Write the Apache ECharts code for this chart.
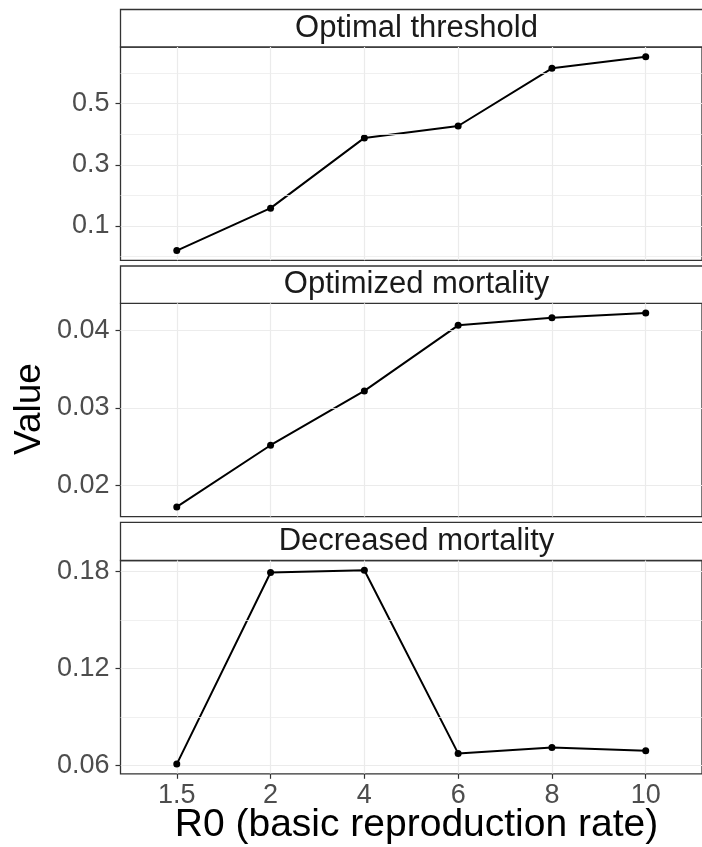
<!DOCTYPE html>
<html><head><meta charset="utf-8">
<script src="https://cdn.jsdelivr.net/npm/echarts@6/dist/echarts.min.js"></script>
<style>html,body{margin:0;padding:0;background:#fff}#c{width:702px;height:847px}</style>
</head><body><div id="c"></div>
<script>
// ---- data ----
const categories = ['1.5', '2', '4', '6', '8', '10'];
const panelTitles = ['Optimal threshold', 'Optimized mortality', 'Decreased mortality'];
const optimalThreshold = [0.019, 0.158, 0.388, 0.427, 0.616, 0.654];
const optimizedMortality = [0.01725, 0.0252, 0.0322, 0.04065, 0.04164, 0.04224];
const decreasedMortality = [0.061, 0.1792, 0.1806, 0.0676, 0.0713, 0.0692];
const yTicks1 = [0.1, 0.3, 0.5];
const yMinor1 = [0.0, 0.2, 0.4, 0.6];
const yTicks2 = [0.02, 0.03, 0.04];
const yMinor2 = [0.025, 0.035];
const yTicks3 = [0.06, 0.12, 0.18];
const yMinor3 = [0.09, 0.15];
const xTitle = 'R0 (basic reproduction rate)';
const yTitle = 'Value';

// ---- layout ----
const FONT = "'Liberation Sans', Arial, Helvetica, sans-serif";
const seriesList = [optimalThreshold, optimizedMortality, decreasedMortality];
const majors = [yTicks1, yTicks2, yTicks3];
const minors = [yMinor1, yMinor2, yMinor3];
const decimals = [1, 2, 2];
const stripTops = [9.5, 266, 522.3];
const plotTops = [47, 303.3, 560.5];
const plotH = 213.3;
const LEFT = 120.5, WIDTH = 592;

const grids = [], xAxes = [], yAxes = [], series = [], graphics = [];
seriesList.forEach((vals, i) => {
  const lo = Math.min(...vals), hi = Math.max(...vals), r = hi - lo;
  const yMin = lo - 0.05 * r, yMax = hi + 0.05 * r;
  grids.push({ left: LEFT, top: plotTops[i], width: WIDTH, height: plotH,
    show: true, borderColor: '#333333', borderWidth: 1.3, backgroundColor: '#fff' });
  const last = i === 2;
  xAxes.push({
    type: 'value', gridIndex: i, min: -0.6, max: categories.length - 1 + 0.6,
    position: 'bottom',
    axisLine: { show: false, onZero: false },
    axisTick: { show: last, customValues: categories.map((c, k) => k), length: 5,
      lineStyle: { color: '#333333', width: 1.2 } },
    axisLabel: { show: last, customValues: categories.map((c, k) => k),
      formatter: v => categories[Math.round(v)], fontSize: 27, color: '#4d4d4d',
      fontFamily: FONT, margin: 8 },
    splitLine: { show: true, lineStyle: { color: '#ebebeb', width: 1.2 } }
  });
  yAxes.push({
    type: 'value', gridIndex: i, min: yMin, max: yMax, position: 'left',
    axisLine: { show: false, onZero: false },
    axisTick: { show: true, customValues: majors[i], length: 5,
      lineStyle: { color: '#333333', width: 1.2 } },
    axisLabel: { customValues: majors[i], formatter: v => v.toFixed(decimals[i]),
      fontSize: 27, color: '#4d4d4d', fontFamily: FONT, margin: 11 },
    splitLine: { show: true, lineStyle: { color: '#ebebeb', width: 1.2 } }
  });
  series.push({
    type: 'line', xAxisIndex: i, yAxisIndex: i, data: [], silent: true, z: 1,
    markLine: { silent: true, symbol: 'none', label: { show: false }, animation: false,
      lineStyle: { color: '#ececec', width: 0.8, type: 'solid' },
      data: minors[i].filter(v => v >= yMin && v <= yMax).map(v => ({ yAxis: v })) }
  });
  series.push({
    type: 'line', xAxisIndex: i, yAxisIndex: i, z: 3,
    data: vals.map((v, k) => [k, v]),
    symbol: 'circle', symbolSize: 7, showSymbol: true,
    itemStyle: { color: '#000' },
    lineStyle: { color: '#000', width: 2 },
    animation: false
  });
  graphics.push({
    type: 'rect', shape: { x: LEFT, y: stripTops[i], width: WIDTH + 10, height: plotTops[i] - stripTops[i] },
    style: { fill: '#ffffff', stroke: '#333333', lineWidth: 1.3 }
  });
  graphics.push({
    type: 'text', x: LEFT + WIDTH / 2, y: (stripTops[i] + plotTops[i]) / 2,
    style: { text: panelTitles[i], fontSize: 31, fontFamily: FONT, fill: '#1a1a1a',
      textAlign: 'center', textVerticalAlign: 'middle' }
  });
});
graphics.push({
  type: 'text', x: 30, y: 409, rotation: Math.PI / 2,
  style: { text: yTitle, fontSize: 37, fontFamily: FONT, fill: '#000',
    textAlign: 'center', textVerticalAlign: 'middle' }
});
graphics.push({
  type: 'text', x: LEFT + WIDTH / 2, y: 825,
  style: { text: xTitle, fontSize: 39, fontFamily: FONT, fill: '#000',
    textAlign: 'center', textVerticalAlign: 'middle' }
});

const chart = echarts.init(document.getElementById('c'), null, { renderer: 'canvas' });
chart.setOption({
  animation: false,
  backgroundColor: '#ffffff',
  grid: grids, xAxis: xAxes, yAxis: yAxes, series: series,
  graphic: graphics
});
</script></body></html>
